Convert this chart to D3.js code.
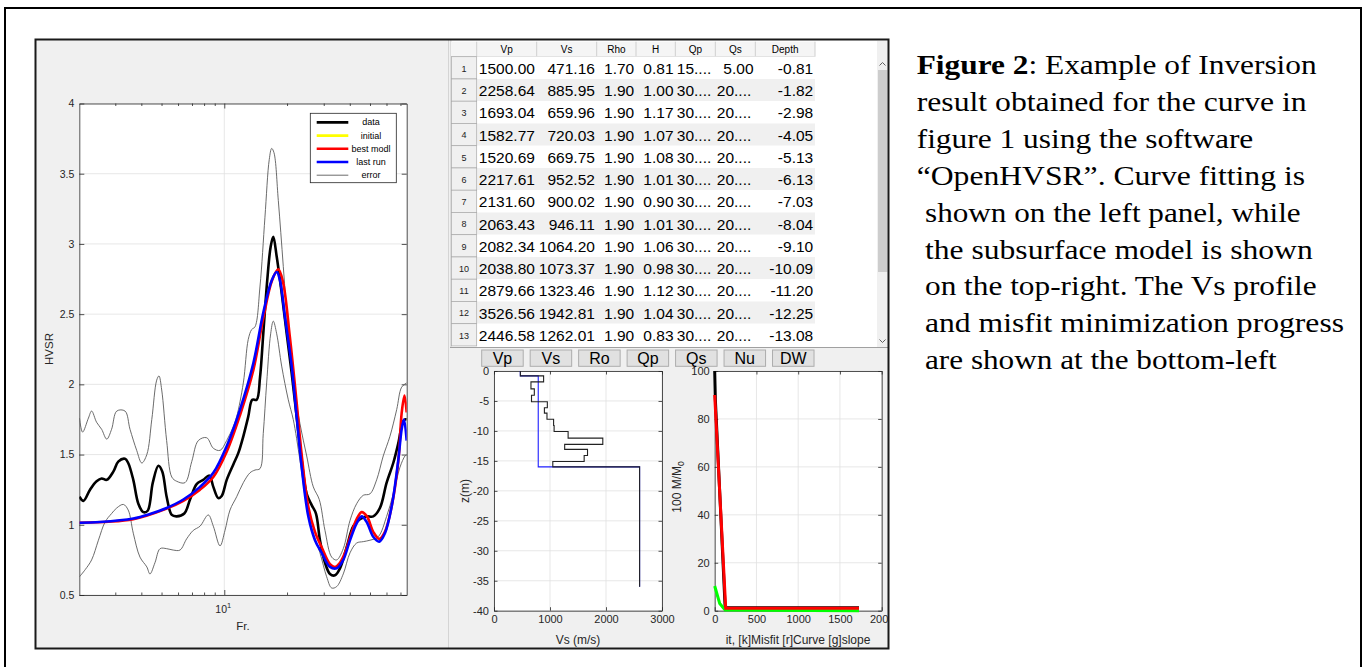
<!DOCTYPE html>
<html>
<head>
<meta charset="utf-8">
<script src="https://cdn.jsdelivr.net/npm/d3@7"></script>
<style>
  body { margin: 0; background: #fff; }
  svg text { font-family: 'Liberation Sans', Arial, sans-serif; }
</style>
</head>
<body>
<div id="chart"></div>
<script>
// ---- HVSR curve fitting (frequency, HVSR) ----
const hvsrTicks = [0.5, 1, 1.5, 2, 2.5, 3, 3.5, 4]
const freqMajor = [10]
const freqMinor = [3, 4, 5, 6, 7, 8, 9, 20, 30, 40, 50, 60, 70]

const hvsrData = [[2.02, 1.2], [2.11, 1.17], [2.27, 1.25], [2.44, 1.31], [2.58, 1.33], [2.73, 1.32], [2.94, 1.38], [3.1, 1.45], [3.34, 1.47], [3.46, 1.44], [3.66, 1.32], [3.87, 1.15], [4.09, 1.09], [4.29, 1.1], [4.54, 1.3], [4.83, 1.42], [5.04, 1.38], [5.29, 1.2], [5.6, 1.07], [5.91, 1.06], [6.43, 1.08], [6.85, 1.18], [7.37, 1.29], [7.93, 1.32], [8.48, 1.35], [8.86, 1.27], [9.36, 1.19], [9.72, 1.205], [10.27, 1.32], [11.05, 1.43], [11.67, 1.51], [12.34, 1.63], [13.03, 1.77], [13.62, 1.89], [14.3, 1.89], [14.84, 2.05], [15.38, 2.36], [16.07, 2.74], [16.69, 2.98], [17.18, 3.05], [17.84, 2.91], [18.85, 2.65], [19.93, 2.36], [21.05, 2.08], [22.24, 1.77], [23.51, 1.46], [24.85, 1.22], [26.26, 1.14], [27.53, 1.08], [28.77, 0.89], [30.41, 0.73], [32.14, 0.65], [33.96, 0.64], [35.89, 0.69], [38.65, 0.84], [41.58, 0.99], [44.75, 1.04], [48.19, 1.06], [51.83, 1.06], [55.81, 1.12], [60.1, 1.3], [64.66, 1.44], [68.33, 1.58], [71.73, 1.73], [73.59, 1.75], [74.98, 1.75]]

const errUpper = [[2.02, 1.76], [2.09, 1.66], [2.23, 1.76], [2.31, 1.81], [2.44, 1.73], [2.58, 1.68], [2.73, 1.61], [2.88, 1.68], [3.05, 1.81], [3.34, 1.81], [3.53, 1.68], [3.8, 1.53], [4.02, 1.44], [4.25, 1.5], [4.49, 1.75], [4.74, 2.03], [4.86, 2.06], [5.01, 1.96], [5.29, 1.6], [5.6, 1.34], [5.91, 1.31], [6.48, 1.3], [6.98, 1.45], [7.51, 1.6], [8.23, 1.62], [8.86, 1.545], [9.54, 1.53], [10.27, 1.6], [11.05, 1.7], [11.47, 1.77], [12.34, 2.01], [13.03, 2.32], [13.53, 2.39], [14.04, 2.41], [14.84, 2.7], [15.67, 3.19], [16.43, 3.6], [16.88, 3.68], [17.31, 3.65], [18.16, 3.31], [19.19, 2.84], [20.28, 2.36], [21.42, 2.01], [23.07, 1.72], [24.85, 1.49], [26.73, 1.27], [28.55, 1.18], [30.41, 0.96], [32.74, 0.77], [34.61, 0.75], [37.22, 0.83], [40.09, 1.03], [43.15, 1.15], [46.42, 1.21], [49.97, 1.22], [53.81, 1.32], [57.88, 1.49], [62.33, 1.63], [67.14, 1.82], [70.94, 1.98], [74.98, 2.01]]

const errLower = [[2.02, 0.63], [2.15, 0.68], [2.31, 0.75], [2.49, 0.89], [2.68, 1.02], [2.88, 1.08], [3.05, 1.12], [3.28, 1.145], [3.46, 1.105], [3.66, 0.94], [3.94, 0.77], [4.25, 0.7], [4.4, 0.65], [4.65, 0.73], [4.92, 0.83], [5.29, 0.83], [5.69, 0.82], [6.13, 0.82], [6.6, 0.9], [7.1, 0.96], [7.65, 0.99], [8.38, 1.07], [8.86, 0.99], [9.54, 0.85], [10.08, 0.96], [10.65, 1.105], [11.47, 1.2], [12.34, 1.3], [13.28, 1.37], [14.04, 1.39], [14.84, 1.4], [15.38, 1.65], [15.97, 2.01], [16.69, 2.36], [17.18, 2.45], [17.84, 2.36], [18.85, 2.13], [20.28, 1.89], [21.42, 1.75], [23.07, 1.46], [24.85, 1.13], [26.73, 0.94], [28.77, 0.8], [30.98, 0.63], [32.74, 0.55], [34.61, 0.56], [37.22, 0.65], [40.09, 0.8], [43.15, 0.87], [46.42, 0.88], [49.97, 0.89], [54.78, 0.915], [60.1, 1.06], [64.66, 1.22], [69.63, 1.41], [73.59, 1.49], [74.98, 1.5]]

const bestModel = [[2.02, 1.015], [3.66, 1.04], [5.29, 1.115], [6.36, 1.17], [7.65, 1.25], [8.86, 1.34], [10.27, 1.52], [11.89, 1.78], [13.78, 2.1], [15.38, 2.47], [16.94, 2.74], [18.16, 2.82], [19.12, 2.73], [20.66, 2.33], [22.24, 1.87], [23.51, 1.5], [25.29, 1.13], [27.23, 0.95], [29.32, 0.84], [32.14, 0.72], [33.96, 0.7], [35.89, 0.73], [37.93, 0.8], [40.09, 0.91], [43.15, 1.04], [45.6, 1.09], [48.35, 1.06], [51.83, 0.95], [55.38, 0.9], [58.97, 0.95], [63.52, 1.13], [68.33, 1.45], [71.0, 1.8], [73.18, 1.92], [74.98, 1.8]]

const lastRun = [[2.02, 1.015], [2.53, 1.02], [3.66, 1.045], [4.4, 1.077], [5.29, 1.12], [6.36, 1.18], [7.65, 1.27], [8.86, 1.37], [10.27, 1.56], [11.89, 1.82], [13.78, 2.15], [15.38, 2.51], [16.88, 2.74], [17.84, 2.8], [18.5, 2.74], [19.55, 2.48], [21.05, 2.13], [22.24, 1.77], [23.51, 1.41], [25.29, 1.06], [27.23, 0.89], [29.32, 0.8], [32.14, 0.7], [34.61, 0.69], [37.22, 0.75], [40.09, 0.89], [43.15, 1.01], [45.6, 1.06], [48.19, 1.02], [51.83, 0.915], [55.38, 0.88], [58.97, 0.94], [63.52, 1.13], [68.33, 1.46], [70.94, 1.68], [72.78, 1.75], [74.98, 1.6]]

const legendLabels = ['data', 'initial', 'best modl', 'last run', 'error']

// ---- model table ----
const tableCols = ['Vp', 'Vs', 'Rho', 'H', 'Qp', 'Qs', 'Depth']
const tableRows = [
  ['1500.00', '471.16', '1.70', '0.81', '15....', '5.00', '-0.81'],
  ['2258.64', '885.95', '1.90', '1.00', '30....', '20....', '-1.82'],
  ['1693.04', '659.96', '1.90', '1.17', '30....', '20....', '-2.98'],
  ['1582.77', '720.03', '1.90', '1.07', '30....', '20....', '-4.05'],
  ['1520.69', '669.75', '1.90', '1.08', '30....', '20....', '-5.13'],
  ['2217.61', '952.52', '1.90', '1.01', '30....', '20....', '-6.13'],
  ['2131.60', '900.02', '1.90', '0.90', '30....', '20....', '-7.03'],
  ['2063.43', '946.11', '1.90', '1.01', '30....', '20....', '-8.04'],
  ['2082.34', '1064.20', '1.90', '1.06', '30....', '20....', '-9.10'],
  ['2038.80', '1073.37', '1.90', '0.98', '30....', '20....', '-10.09'],
  ['2879.66', '1323.46', '1.90', '1.12', '30....', '20....', '-11.20'],
  ['3526.56', '1942.81', '1.90', '1.04', '30....', '20....', '-12.25'],
  ['2446.58', '1262.01', '1.90', '0.83', '30....', '20....', '-13.08']
]
const buttonLabels = ['Vp', 'Vs', 'Ro', 'Qp', 'Qs', 'Nu', 'DW']

// ---- Vs profile (layer Vs, layer bottom depth) ----
const profileVs = [471.16, 885.95, 659.96, 720.03, 669.75, 952.52, 900.02, 946.11, 1064.2, 1073.37, 1323.46, 1942.81, 1262.01, 1670, 1610, 1050, 2600]
const profileDepth = [-0.81, -1.82, -2.98, -4.05, -5.13, -6.13, -7.03, -8.04, -9.1, -10.09, -11.2, -12.25, -13.08, -14.1, -15.1, -16.0, -36]
const lastRunVs = [470, 790, 2600]
const lastRunDepth = [-0.81, -16.0, -36]
const vsTicks = [0, 1000, 2000, 3000]
const zTicks = [0, -5, -10, -15, -20, -25, -30, -35, -40]

// ---- misfit progress (iteration, 100 M/M0) ----
const misfitK = [[0, 100], [8, 88], [125, 1.3], [1728, 1.2]]
const misfitR = [[0, 90], [132, 1], [1728, 1]]
const misfitG = [[0, 10.3], [60, 3], [125, 0.3], [1728, 0]]
const itTicks = [0, 500, 1000, 1500, 2000]
const mTicks = [0, 20, 40, 60, 80, 100]

// ---- caption ----
const captionLines = [
  'Example  of Inversion',
  'result  obtained  for  the curve  in',
  'figure  1 using  the  software',
  '\u201COpenHVSR\u201D.  Curve  fitting  is',
  'shown  on the  left  panel,  while',
  'the  subsurface  model is shown',
  'on the  top-right.  The  Vs profile',
  'and misfit  minimization  progress',
  'are shown  at the  bottom-left'
]

const axisColor = '#262626'
const serif = "'Liberation Serif', 'Times New Roman', Times, 'Nimbus Roman', serif"

const svg = d3.select('#chart').append('svg')
  .attr('width', 1364).attr('height', 667)

// outer page frame
svg.append('rect').attr('x', 5).attr('y', 8).attr('width', 1356).attr('height', 690)
  .attr('fill', 'none').attr('stroke', '#000').attr('stroke-width', 2)

svg.append('clipPath').attr('id', 'shot')
  .append('rect').attr('x', 35).attr('y', 39).attr('width', 854).attr('height', 610)
const shot = svg.append('g').attr('clip-path', 'url(#shot)')

shot.append('rect').attr('x', 35).attr('y', 39).attr('width', 854).attr('height', 610).attr('fill', '#f0f0f0')
shot.append('line').attr('x1', 448.5).attr('x2', 448.5).attr('y1', 40).attr('y2', 648).attr('stroke', '#d4d4d4')

function styleAxis (g, size) {
  g.selectAll('.domain').attr('stroke', axisColor).attr('stroke-width', 0.8)
  g.selectAll('.tick line').attr('stroke', axisColor).attr('stroke-width', 0.8)
  g.selectAll('.tick text').attr('fill', axisColor).style('font-size', (size || 10.5) + 'px')
    .style('font-family', "'Liberation Sans', Arial, sans-serif")
}

// draws white axes area, grid and a full box of inward ticks
function box (g, xs, ys, xTicks, yTicks, opts) {
  const [x0, x1] = xs.range()
  const [y1, y0] = ys.range()
  const fs = opts.font || 10.5
  g.append('rect').attr('x', x0).attr('y', y0).attr('width', x1 - x0).attr('height', y1 - y0).attr('fill', '#fff')
  g.append('g').selectAll('line').data(yTicks).join('line')
    .attr('x1', x0).attr('x2', x1).attr('y1', d => ys(d)).attr('y2', d => ys(d))
    .attr('stroke', '#e1e1e1').attr('stroke-width', 0.8)
  g.append('g').selectAll('line').data(xTicks).join('line')
    .attr('y1', y0).attr('y2', y1).attr('x1', d => xs(d)).attr('x2', d => xs(d))
    .attr('stroke', '#e1e1e1').attr('stroke-width', 0.8)
  const tk = opts.tick || 4
  g.append('g').attr('transform', `translate(0,${y1})`)
    .call(d3.axisBottom(xs).tickValues(xTicks).tickSize(-tk).tickSizeOuter(0).tickPadding(opts.xPad || 6).tickFormat(opts.fx || (d => d)))
    .call(styleAxis, fs)
  g.append('g').attr('transform', `translate(0,${y0})`)
    .call(d3.axisTop(xs).tickValues(xTicks).tickSize(-tk).tickSizeOuter(0).tickFormat(''))
    .call(styleAxis, fs)
  g.append('g').attr('transform', `translate(${x0},0)`)
    .call(d3.axisLeft(ys).tickValues(yTicks).tickSize(-tk).tickSizeOuter(0).tickPadding(opts.yPad || 5).tickFormat(opts.fy || (d => d)))
    .call(styleAxis, fs)
  g.append('g').attr('transform', `translate(${x1},0)`)
    .call(d3.axisRight(ys).tickValues(yTicks).tickSize(-tk).tickSizeOuter(0).tickFormat(''))
    .call(styleAxis, fs)
}

// ---------- left panel: HVSR fit ----------
const hv = shot.append('g')
const x = d3.scaleLog().domain([2.016, 75]).range([79.3, 406.7])
const y = d3.scaleLinear().domain([0.5, 4]).range([595, 103.5])

hv.append('rect').attr('x', 79.3).attr('y', 103.5).attr('width', 327.4).attr('height', 491.5).attr('fill', '#fff')
hv.append('g').selectAll('line').data(freqMinor).join('line')
  .attr('x1', d => x(d)).attr('x2', d => x(d)).attr('y1', 103.5).attr('y2', 595)
  .attr('stroke', '#c8c8c8').attr('stroke-width', 0.7).attr('stroke-dasharray', '1,2')
box(hv, x, y, freqMajor, hvsrTicks, { fx: () => '', tick: 5 })
hv.append('g').attr('transform', 'translate(0,595)')
  .call(d3.axisBottom(x).tickValues(freqMinor).tickSize(-2.5).tickFormat('')).call(styleAxis)
  .select('.domain').remove()
hv.append('g').attr('transform', 'translate(0,103.5)')
  .call(d3.axisTop(x).tickValues(freqMinor).tickSize(-2.5).tickFormat('')).call(styleAxis)
  .select('.domain').remove()

const tenLabel = hv.append('text').attr('x', x(10) - 1).attr('y', 613).attr('text-anchor', 'middle')
  .attr('fill', axisColor).style('font-size', '10.5px')
tenLabel.append('tspan').text('10')
tenLabel.append('tspan').attr('dy', -5).style('font-size', '7.5px').text('1')

hv.append('text').attr('x', 243).attr('y', 630).attr('text-anchor', 'middle')
  .attr('fill', axisColor).style('font-size', '11.5px').text('Fr.')
hv.append('text').attr('transform', 'translate(53,349) rotate(-90)').attr('text-anchor', 'middle')
  .attr('fill', axisColor).style('font-size', '11.5px').text('HVSR')

const hvLine = d3.line().x(d => x(d[0])).y(d => y(d[1])).curve(d3.curveCatmullRom.alpha(0.5))
hv.append('clipPath').attr('id', 'hvclip').append('rect').attr('x', 79.3).attr('y', 103.5).attr('width', 327.4).attr('height', 491.5)
const curves = hv.append('g').attr('clip-path', 'url(#hvclip)')
const series = [
  { d: errUpper, c: '#5a5a5a', w: 0.9 },
  { d: errLower, c: '#5a5a5a', w: 0.9 },
  { d: hvsrData, c: '#000', w: 2.6 },
  { d: bestModel, c: '#ff0000', w: 2.6 },
  { d: lastRun, c: '#0000ff', w: 2.6 }
]
curves.selectAll('path').data(series).join('path')
  .attr('d', s => hvLine(s.d)).attr('fill', 'none')
  .attr('stroke', s => s.c).attr('stroke-width', s => s.w)

// legend
const legendColors = ['#000', '#ffff00', '#ff0000', '#0000ff', '#5a5a5a']
const legendWidths = [2.6, 2.6, 2.6, 2.6, 0.9]
const lg = hv.append('g')
lg.append('rect').attr('x', 310.3).attr('y', 113.3).attr('width', 86).attr('height', 69.4)
  .attr('fill', '#fff').attr('stroke', axisColor).attr('stroke-width', 0.8)
const lgRow = lg.selectAll('g.item').data(legendLabels).join('g').attr('class', 'item')
  .attr('transform', (d, i) => `translate(0,${122.4 + i * 13.2})`)
lgRow.append('line').attr('x1', 316.7).attr('x2', 348.3)
  .attr('stroke', (d, i) => legendColors[i]).attr('stroke-width', (d, i) => legendWidths[i])
lgRow.append('text').attr('x', 371).attr('y', 3).attr('text-anchor', 'middle')
  .style('font-size', '9px').attr('fill', '#000').text(d => d)

// ---------- model table ----------
const tb = shot.append('g')
const colEdges = [476.7, 536.7, 596.7, 636, 675.3, 715.3, 755.3, 815]
const rowTop = 56.7
const rowH = 22.25
tb.append('rect').attr('x', 450).attr('y', 40).attr('width', 439).attr('height', 308).attr('fill', '#fff')
tb.append('rect').attr('x', 450).attr('y', 40).attr('width', 1.5).attr('height', 308).attr('fill', '#dcdcdc')
// header
tb.append('rect').attr('x', 451).attr('y', 41.7).attr('width', 364).attr('height', 15).attr('fill', '#f5f5f5')
tb.selectAll('line.hsep').data(colEdges).join('line').attr('class', 'hsep')
  .attr('x1', d => d).attr('x2', d => d).attr('y1', 41.7).attr('y2', 56.7).attr('stroke', '#cfcfcf')
tb.append('line').attr('x1', 451).attr('x2', 815).attr('y1', 56.7).attr('y2', 56.7).attr('stroke', '#cfcfcf')
tb.selectAll('text.head').data(tableCols).join('text').attr('class', 'head')
  .attr('x', (d, i) => (colEdges[i] + colEdges[i + 1]) / 2).attr('y', 53)
  .attr('text-anchor', 'middle').style('font-size', '10px').attr('fill', '#000').text(d => d)

const rows = tb.selectAll('g.row').data(tableRows).join('g').attr('class', 'row')
  .attr('transform', (d, i) => `translate(0,${rowTop + i * rowH})`)
rows.append('rect').attr('x', 476.7).attr('width', 815 - 476.7).attr('height', rowH)
  .attr('fill', (d, i) => i % 2 ? '#f0f0f0' : '#fff')
rows.append('rect').attr('x', 451.5).attr('width', 25.2).attr('height', rowH)
  .attr('fill', '#f0f0f0').attr('stroke', '#a9a9a9').attr('stroke-width', 0.7)
rows.append('text').attr('x', 464).attr('y', 15).attr('text-anchor', 'middle')
  .style('font-size', '9px').attr('fill', '#222').text((d, i) => i + 1)
rows.selectAll('text.val').data(d => d).join('text').attr('class', 'val')
  .attr('x', (d, i) => d.endsWith('....') ? colEdges[i] + 1.5 : colEdges[i + 1] - 1.8)
  .attr('text-anchor', d => d.endsWith('....') ? 'start' : 'end')
  .attr('y', 17.2).style('font-size', '15.5px').attr('fill', '#000').text(d => d)

// scroll bar
tb.append('rect').attr('x', 877).attr('y', 41).attr('width', 11).attr('height', 306).attr('fill', '#f0f0f0')
tb.append('rect').attr('x', 878).attr('y', 70).attr('width', 9.5).attr('height', 202).attr('fill', '#cdcdcd')
tb.append('path').attr('d', 'M879.5,65.5 L882.5,62.5 L885.5,65.5').attr('fill', 'none').attr('stroke', '#606060')
tb.append('path').attr('d', 'M879.5,339.5 L882.5,342.5 L885.5,339.5').attr('fill', 'none').attr('stroke', '#606060')
tb.append('line').attr('x1', 450).attr('x2', 889).attr('y1', 347.5).attr('y2', 347.5).attr('stroke', '#a0a0a0')

// buttons
const bt = shot.append('g').selectAll('g').data(buttonLabels).join('g')
  .attr('transform', (d, i) => `translate(${481.7 + i * 48.47},350)`)
bt.append('rect').attr('width', 41.5).attr('height', 16.3).attr('fill', '#e1e1e1').attr('stroke', '#adadad')
bt.append('text').attr('x', 20.75).attr('y', 14).attr('text-anchor', 'middle')
  .style('font-size', '16px').attr('fill', '#000').text(d => d)

// ---------- Vs profile ----------
const vp = shot.append('g')
const xv = d3.scaleLinear().domain([0, 3000]).range([494, 662])
const yv = d3.scaleLinear().domain([-40, 0]).range([610.7, 371])
box(vp, xv, yv, vsTicks, zTicks, { tick: 3.5, xPad: 5, yPad: 5, font: 11 })
function stepPoints (vs, depth) {
  const pts = []
  vs.forEach((v, i) => {
    pts.push([v, i ? depth[i - 1] : 0])
    pts.push([v, depth[i]])
  })
  return pts
}
const stepLine = d3.line().x(d => xv(d[0])).y(d => yv(d[1]))
vp.append('path').attr('d', stepLine(stepPoints(lastRunVs, lastRunDepth)))
  .attr('fill', 'none').attr('stroke', '#1f1fff').attr('stroke-width', 1.1)
vp.append('path').attr('d', stepLine(stepPoints(profileVs, profileDepth)))
  .attr('fill', 'none').attr('stroke', '#222').attr('stroke-width', 1.1)
vp.append('text').attr('x', 578).attr('y', 644).attr('text-anchor', 'middle')
  .attr('fill', axisColor).style('font-size', '12px').text('Vs (m/s)')
vp.append('text').attr('transform', 'translate(469,491) rotate(-90)').attr('text-anchor', 'middle')
  .attr('fill', axisColor).style('font-size', '12px').text('z(m)')

// ---------- misfit progress ----------
const mf = shot.append('g')
const xm = d3.scaleLinear().domain([0, 2000]).range([714.7, 881.7])
const ym = d3.scaleLinear().domain([0, 100]).range([610.7, 371])
box(mf, xm, ym, itTicks, mTicks, { tick: 3.5, xPad: 5, yPad: 5, font: 11 })
const mLine = d3.line().x(d => xm(d[0])).y(d => ym(d[1]))
mf.append('path').attr('d', mLine(misfitK)).attr('fill', 'none').attr('stroke', '#000').attr('stroke-width', 3)
mf.append('path').attr('d', mLine(misfitG)).attr('fill', 'none').attr('stroke', '#00ff00').attr('stroke-width', 3)
mf.append('path').attr('d', mLine(misfitR)).attr('fill', 'none').attr('stroke', '#ff0000').attr('stroke-width', 3)
mf.append('text').attr('x', 798).attr('y', 644).attr('text-anchor', 'middle')
  .attr('fill', axisColor).style('font-size', '12px').text('it, [k]Misfit [r]Curve [g]slope')
const mLab = mf.append('text').attr('transform', 'translate(681,487) rotate(-90)').attr('text-anchor', 'middle')
  .attr('fill', axisColor).style('font-size', '12px')
mLab.append('tspan').text('100 M/M')
mLab.append('tspan').attr('dy', 3).style('font-size', '8.5px').text('0')

// screenshot border
svg.append('rect').attr('x', 35.5).attr('y', 39.5).attr('width', 853).attr('height', 609)
  .attr('fill', 'none').attr('stroke', '#1a1a1a').attr('stroke-width', 2)

// ---------- caption ----------
const capX = [916.7, 916.7, 916.7, 916.7, 925, 925, 925, 925, 925]
const capW = [400, 390, 336.6, 388.3, 375.7, 387.7, 391.7, 419, 351.7]
const cap = svg.append('g')
captionLines.forEach((line, i) => {
  const t = cap.append('text').attr('x', capX[i]).attr('y', 74 + i * 36.9)
    .attr('textLength', capW[i]).attr('lengthAdjust', 'spacingAndGlyphs')
    .style('font-size', '27px').style('font-family', serif)
    .attr('fill', '#000')
  if (i === 0) {
    t.append('tspan').style('font-weight', 'bold').style('font-family', serif).text('Figure  2')
    t.append('tspan').style('font-family', serif).text(': ' + line)
  } else {
    t.text(line)
  }
})
</script>
</body>
</html>
